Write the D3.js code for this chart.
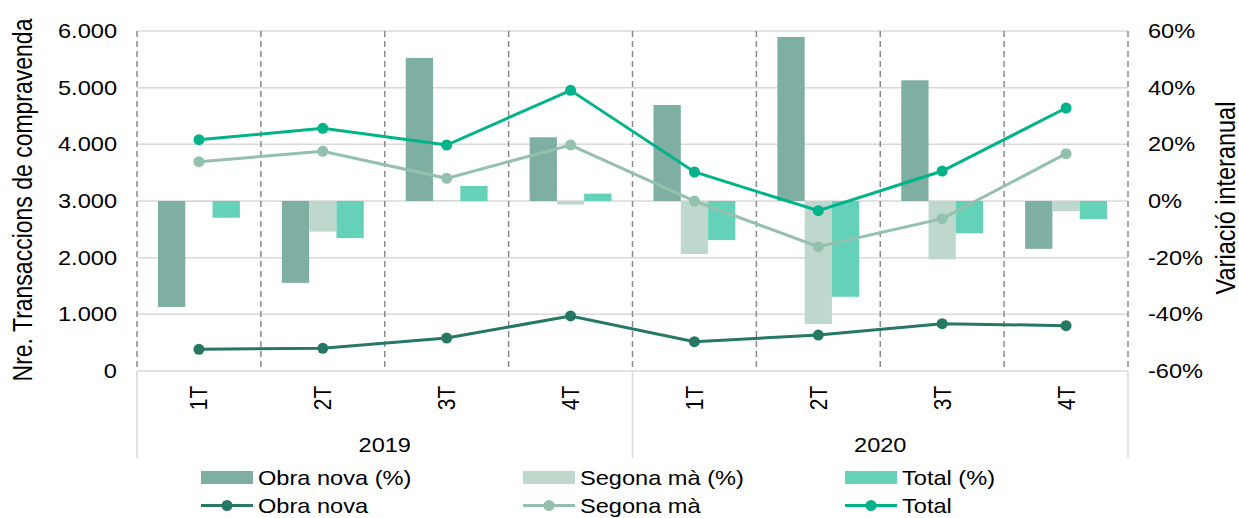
<!DOCTYPE html>
<html>
<head>
<meta charset="utf-8">
<script src="https://cdn.jsdelivr.net/npm/d3@7"></script>
<style>
  body { margin: 0; background: #fff; }
  svg { font-family: "Liberation Sans", Arial, sans-serif; }
</style>
</head>
<body>
<svg id="chart" width="1239" height="518"></svg>
<script>
// categories
var quarters = ["1T","2T","3T","4T","1T","2T","3T","4T"]
var years = ["2019","2020"]

// lines (left axis, nr. transaccions)
var obraNova = [383, 400, 582, 971, 517, 635, 835, 800]
var segonaMa = [3693, 3877, 3400, 3988, 3000, 2194, 2688, 3835]
var total = [4082, 4282, 3988, 4953, 3512, 2829, 3529, 4641]

// bars (right axis, variació interanual %)
var obraNovaPct = [-37.4, -28.9, 50.5, 22.5, 33.9, 57.9, 42.6, -16.9]
var segonaMaPct = [-0.3, -10.8, 0.2, -1.3, -18.7, -43.4, -20.6, -3.6]
var totalPct = [-5.9, -13.1, 5.3, 2.6, -13.8, -33.8, -11.4, -6.4]

var leftTicks = [0, 1000, 2000, 3000, 4000, 5000, 6000]
var rightTicks = [-60, -40, -20, 0, 20, 40, 60]

var colors = {
  obraBar: "#7fafa2", segonaBar: "#bed8cd", totalBar: "#66d1b9",
  obraLine: "#267864", segonaLine: "#94c0ae", totalLine: "#00b389"
}

var svg = d3.select("#chart")
var pLeft = 137, pRight = 1128, pTop = 31, pBottom = 371
var sx = 1.18   // text in the reference is a bit wider than tall

var x = d3.scaleBand().domain(d3.range(8)).range([pLeft, pRight]).padding(0)
var xb = d3.scaleBand().domain(["obra","segona","total"]).range([0, x.bandwidth()])
           .paddingInner(0).paddingOuter(0.77)
var yL = d3.scaleLinear().domain([0, 6000]).range([pBottom, pTop])
var yR = d3.scaleLinear().domain([-60, 60]).range([pBottom, pTop])

var fmt = d3.formatLocale({decimal: ",", thousands: ".", grouping: [3], currency: ["", ""]}).format(",")

function place(px, py, rot) {
  return `translate(${px},${py}) scale(${sx},1)` + (rot ? " rotate(-90)" : "")
}

// horizontal grid
svg.append("g").selectAll("line").data(leftTicks).enter().append("line")
   .attr("x1", pLeft).attr("x2", pRight)
   .attr("y1", d => yL(d)).attr("y2", d => yL(d))
   .attr("stroke", "#d9d9d9").attr("stroke-width", 1.5)

// bars
var barSeries = [
  {key: "obra", vals: obraNovaPct, color: colors.obraBar},
  {key: "segona", vals: segonaMaPct, color: colors.segonaBar},
  {key: "total", vals: totalPct, color: colors.totalBar}
]
barSeries.forEach(s => {
  svg.append("g").selectAll("rect").data(s.vals).enter().append("rect")
     .attr("x", (d, i) => x(i) + xb(s.key))
     .attr("width", xb.bandwidth())
     .attr("y", d => yR(Math.max(0, d)))
     .attr("height", d => Math.abs(yR(d) - yR(0)))
     .attr("fill", s.color)
})

// dashed vertical separators
svg.append("g").selectAll("line").data(d3.range(9)).enter().append("line")
   .attr("x1", i => pLeft + i * x.step()).attr("x2", i => pLeft + i * x.step())
   .attr("y1", pTop).attr("y2", pBottom)
   .attr("stroke", "#8a8a8a").attr("stroke-width", 1.5).attr("stroke-dasharray", "6,4")

// year group separators below axis
svg.append("g").selectAll("line").data([0, 4, 8]).enter().append("line")
   .attr("x1", i => pLeft + i * x.step()).attr("x2", i => pLeft + i * x.step())
   .attr("y1", pBottom).attr("y2", 458)
   .attr("stroke", "#d9d9d9").attr("stroke-width", 1.5)

// lines
var lineSeries = [
  {vals: obraNova, color: colors.obraLine},
  {vals: segonaMa, color: colors.segonaLine},
  {vals: total, color: colors.totalLine}
]
var line = d3.line().x((d, i) => x(i) + x.bandwidth() / 2).y(d => yL(d))
lineSeries.forEach(s => {
  svg.append("path").datum(s.vals)
     .attr("d", line).attr("fill", "none")
     .attr("stroke", s.color).attr("stroke-width", 3)
  svg.append("g").selectAll("circle").data(s.vals).enter().append("circle")
     .attr("cx", (d, i) => x(i) + x.bandwidth() / 2)
     .attr("cy", d => yL(d)).attr("r", 5.5)
     .attr("fill", s.color)
})

// left axis labels
svg.append("g").selectAll("text").data(leftTicks).enter().append("text")
   .attr("transform", d => place(117, yL(d) + 7))
   .attr("text-anchor", "end").attr("font-size", 20).attr("fill", "#000")
   .text(d => fmt(d))

// right axis labels
svg.append("g").selectAll("text").data(rightTicks).enter().append("text")
   .attr("transform", d => place(1148, yR(d) + 7))
   .attr("text-anchor", "start").attr("font-size", 20).attr("fill", "#000")
   .text(d => d + "%")

// axis titles
svg.append("text")
   .attr("transform", place(32, 200, true))
   .attr("text-anchor", "middle").attr("font-size", 23)
   .text("Nre. Transaccions de compravenda")
svg.append("text")
   .attr("transform", place(1235, 198, true))
   .attr("text-anchor", "middle").attr("font-size", 23.5)
   .text("Variació interanual")

// quarter labels
svg.append("g").selectAll("text").data(quarters).enter().append("text")
   .attr("transform", (d, i) => place(x(i) + x.bandwidth() / 2 + 8.5, 398, true))
   .attr("text-anchor", "middle").attr("font-size", 21)
   .text(d => d)

// year labels
svg.append("g").selectAll("text").data(years).enter().append("text")
   .attr("transform", (d, i) => place(pLeft + (i * 4 + 2) * x.step(), 452))
   .attr("text-anchor", "middle").attr("font-size", 20)
   .text(d => d)

// legend
var legendBars = [
  {label: "Obra nova (%)", color: colors.obraBar},
  {label: "Segona mà (%)", color: colors.segonaBar},
  {label: "Total (%)", color: colors.totalBar}
]
var legendLines = [
  {label: "Obra nova", color: colors.obraLine},
  {label: "Segona mà", color: colors.segonaLine},
  {label: "Total", color: colors.totalLine}
]
var legX = [201, 523, 845]
var lb = svg.append("g").selectAll("g").data(legendBars).enter().append("g")
   .attr("transform", (d, i) => `translate(${legX[i]},0)`)
lb.append("rect").attr("x", 0).attr("y", 471).attr("width", 52).attr("height", 13).attr("fill", d => d.color)
lb.append("text").attr("transform", place(57, 485)).attr("font-size", 20).text(d => d.label)

var ll = svg.append("g").selectAll("g").data(legendLines).enter().append("g")
   .attr("transform", (d, i) => `translate(${legX[i]},0)`)
ll.append("line").attr("x1", 0).attr("x2", 52).attr("y1", 505.5).attr("y2", 505.5)
  .attr("stroke", d => d.color).attr("stroke-width", 3)
ll.append("circle").attr("cx", 26).attr("cy", 505.5).attr("r", 5.5).attr("fill", d => d.color)
ll.append("text").attr("transform", place(57, 512.5)).attr("font-size", 20).text(d => d.label)
</script>
</body>
</html>
